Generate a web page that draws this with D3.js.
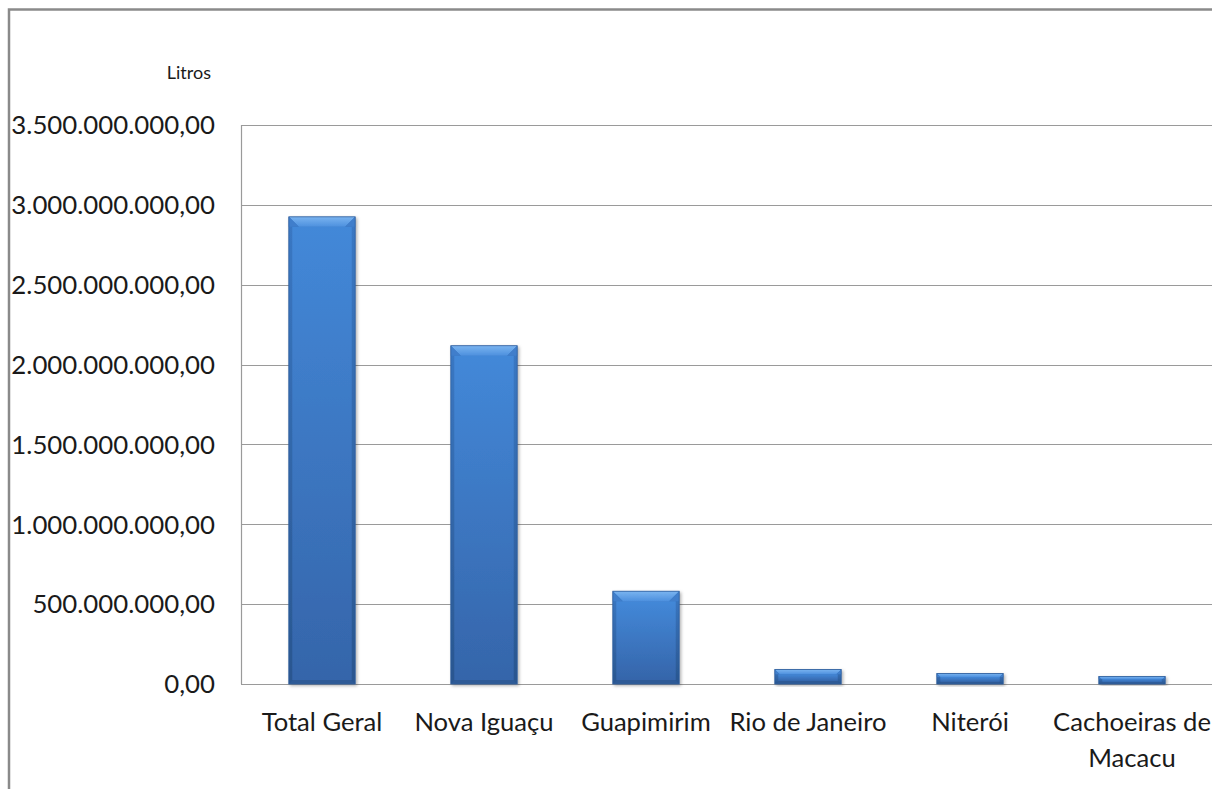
<!DOCTYPE html>
<html>
<head>
<meta charset="utf-8">
<script src="https://cdn.jsdelivr.net/npm/d3@7"></script>
<style>
  html, body { margin: 0; padding: 0; background: #fff; overflow: hidden; }
  svg { display: block; }
  text { font-family: Lato, "Open Sans", sans-serif; fill: #1a1a1a; }
</style>
</head>
<body>
<svg id="chart" width="1212" height="789"></svg>
<script>
const categories = ["Total Geral", "Nova Iguaçu", "Guapimirim", "Rio de Janeiro", "Niterói", "Cachoeiras de Macacu"];
const values = [2925000000, 2118000000, 581000000, 91000000, 66000000, 47000000];
const tickValues = [0, 500000000, 1000000000, 1500000000, 2000000000, 2500000000, 3000000000, 3500000000];
const yUnit = "Litros";

const svg = d3.select("#chart");
const W = 1212, H = 789;
const plot = { left: 241, right: 1213, top: 125, bottom: 684 };

// outer chart border (cropped at right/bottom)
svg.append("rect")
  .attr("x", 9).attr("y", 9.5).attr("width", 1400).attr("height", 1000)
  .attr("fill", "none").attr("stroke", "#8a8a8a").attr("stroke-width", 2.5);

const x = d3.scaleBand().domain(categories)
  .range([plot.left, plot.right]).paddingInner(0.59).paddingOuter(0.295);
const y = d3.scaleLinear().domain([0, 3500000000]).range([plot.bottom, plot.top]);

const fmt = v => {
  const s = d3.format(",.2f")(v);
  return s.replace(/,/g, "#").replace(".", ",").replace(/#/g, ".");
};

// gridlines
svg.append("g").selectAll("line").data(tickValues).join("line")
  .attr("x1", plot.left).attr("x2", W)
  .attr("y1", d => Math.round(y(d)) + 0.5).attr("y2", d => Math.round(y(d)) + 0.5)
  .attr("stroke", "#9a9a9a").attr("stroke-width", 1.2);

// left axis line of plot area
svg.append("line")
  .attr("x1", plot.left + 0.5).attr("x2", plot.left + 0.5)
  .attr("y1", plot.top).attr("y2", plot.bottom)
  .attr("stroke", "#9a9a9a").attr("stroke-width", 1.2);

// y tick labels
svg.append("g").selectAll("text").data(tickValues).join("text")
  .attr("x", 215).attr("y", d => y(d))
  .attr("dy", "0.36em").attr("text-anchor", "end")
  .style("font-size", "25.8px")
  .text(d => fmt(d));

// unit label
svg.append("text").attr("x", 211).attr("y", 79).attr("text-anchor", "end")
  .style("font-size", "18px").text(yUnit);

// gradients
const defs = svg.append("defs");
const gFace = defs.append("linearGradient").attr("id", "face").attr("x1", 0).attr("x2", 0).attr("y1", 0).attr("y2", 1);
gFace.append("stop").attr("offset", "0%").attr("stop-color", "#4388d8");
gFace.append("stop").attr("offset", "100%").attr("stop-color", "#3565aa");
const gTop = defs.append("linearGradient").attr("id", "topbev").attr("x1", 0).attr("x2", 0).attr("y1", 0).attr("y2", 1);
gTop.append("stop").attr("offset", "0%").attr("stop-color", "#7ab4f0");
gTop.append("stop").attr("offset", "100%").attr("stop-color", "#4d90de");
const gSide = defs.append("linearGradient").attr("id", "side").attr("x1", 0).attr("x2", 0).attr("y1", 0).attr("y2", 1);
gSide.append("stop").attr("offset", "0%").attr("stop-color", "#3a78c4");
gSide.append("stop").attr("offset", "100%").attr("stop-color", "#2a568f");
const flt = defs.append("filter").attr("id", "shadow").attr("x", "-20%").attr("y", "-20%").attr("width", "140%").attr("height", "140%");
flt.append("feDropShadow").attr("dx", 1.5).attr("dy", 1.5).attr("stdDeviation", 1.5).attr("flood-color", "#000").attr("flood-opacity", 0.3);

const data = categories.map((c, i) => ({ c, v: values[i] }));
const bars = svg.append("g").selectAll("g").data(data).join("g")
  .attr("filter", "url(#shadow)");

bars.each(function(d) {
  const g = d3.select(this);
  const x0 = x(d.c), w = x.bandwidth();
  const y0 = y(d.v), y1 = y(0);
  const h = y1 - y0;
  const b = Math.min(10, h / 3);   // top bevel depth
  const s = Math.min(3.5, w / 10); // side bevel
  const bb = Math.min(4, h / 5);   // bottom bevel
  g.append("rect").attr("x", x0).attr("y", y0).attr("width", w).attr("height", h).attr("fill", "url(#side)");
  g.append("rect").attr("x", x0 + s).attr("y", y0 + b).attr("width", w - 2 * s).attr("height", Math.max(0, h - b - bb)).attr("fill", "url(#face)");
  g.append("path").attr("d", `M${x0},${y1} L${x0 + w},${y1} L${x0 + w - s},${y1 - bb} L${x0 + s},${y1 - bb} Z`).attr("fill", "#2d5a96");
  g.append("path").attr("d", `M${x0},${y0} L${x0 + w},${y0} L${x0 + w - b},${y0 + b} L${x0 + b},${y0 + b} Z`)
    .attr("fill", "url(#topbev)");
  g.append("path").attr("d", `M${x0},${y0} L${x0 + b},${y0 + b} L${x0 + s},${y0 + b} L${x0},${y0 + b}Z`).attr("fill", "#3f7ecb");
  g.append("path").attr("d", `M${x0 + w},${y0} L${x0 + w - b},${y0 + b} L${x0 + w - s},${y0 + b} L${x0 + w},${y0 + b}Z`).attr("fill", "#3f7ecb");
  g.append("rect").attr("x", x0).attr("y", y0).attr("width", w).attr("height", h)
    .attr("fill", "none").attr("stroke", "#2f5e9c").attr("stroke-width", 0.8);
});

// category labels
const labelLines = {
  "Cachoeiras de Macacu": ["Cachoeiras de", "Macacu"]
};
const cx = svg.append("g");
categories.forEach(c => {
  const lines = labelLines[c] || [c];
  const t = cx.append("text").attr("x", x(c) + x.bandwidth() / 2).attr("y", 731)
    .attr("text-anchor", "middle").style("font-size", "25.6px");
  lines.forEach((ln, i) => {
    t.append("tspan").attr("x", x(c) + x.bandwidth() / 2).attr("dy", i === 0 ? 0 : 36).text(ln);
  });
});
</script>
</body>
</html>
